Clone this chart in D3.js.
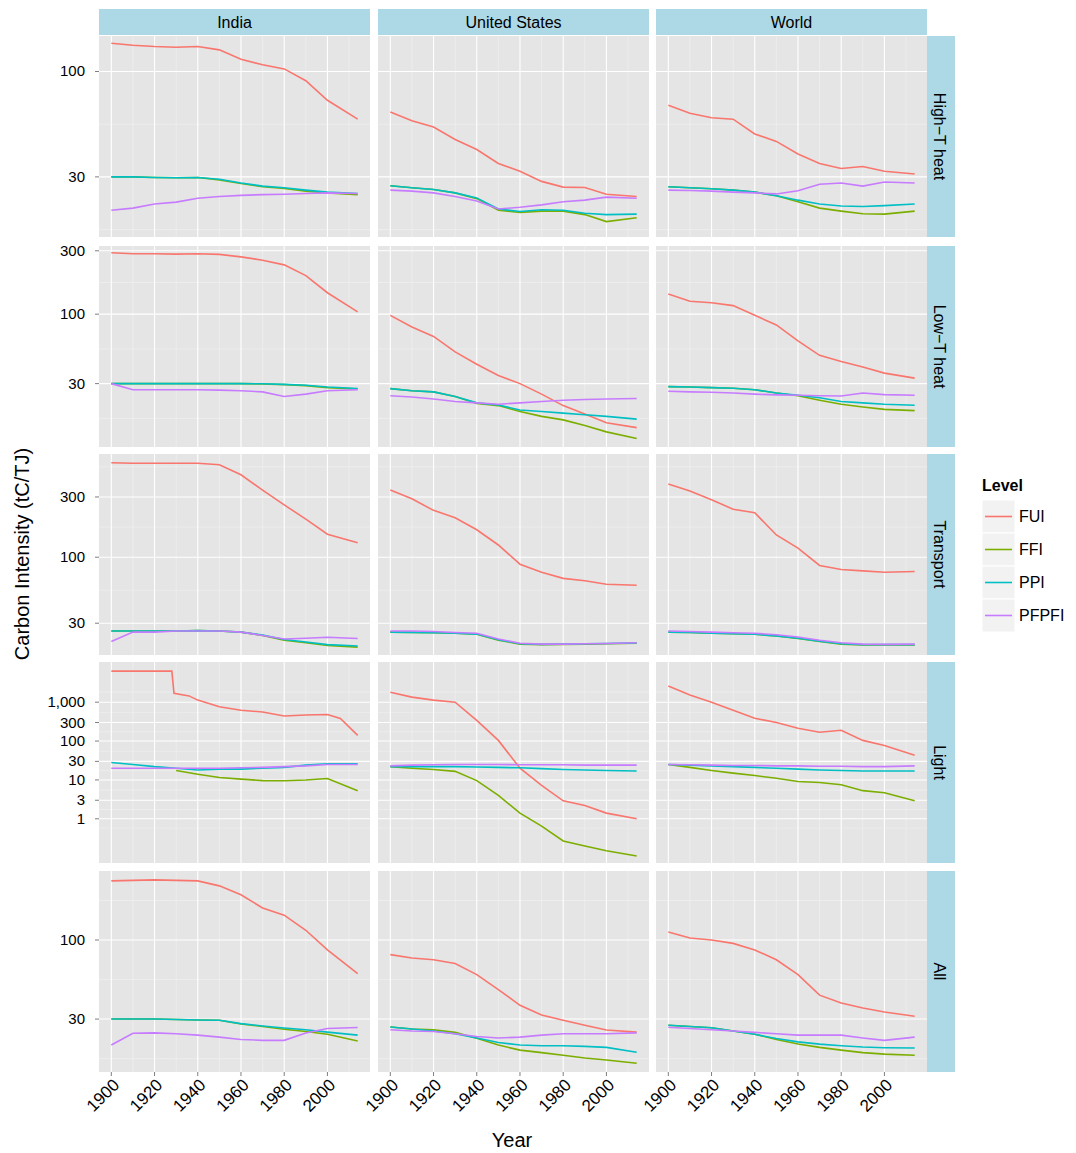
<!DOCTYPE html>
<html><head><meta charset="utf-8">
<script src="https://cdn.jsdelivr.net/npm/d3@7"></script>
<style>body{margin:0;background:#fff;font-family:"Liberation Sans",Arial,sans-serif}</style>
</head><body>
<script>
/*==================================================
 data (log scale)
==================================================*/
var years = [1900,1910,1920,1930,1940,1950,1960,1970,1980,1990,2000,2014];
var regions = ["India","United States","World"];
var sectors = ["High\u2212T heat","Low\u2212T heat","Transport","Light","All"];
var levels = ["FUI","FFI","PPI","PFPFI"];
var colors = ["#F8766D","#7CAE00","#00BFC4","#C77CFF"];

// each facet: [FUI, FFI, PPI, PFPFI]
var indiaHigh = [[138,135,133,132,133,128,115,108,103,90,72,58],
  [30,30,29.8,29.7,29.8,29,27.8,26.8,26.3,25.5,25,24.5],
  [30,30,29.8,29.7,29.8,29.2,28,27,26.5,25.8,25.2,24.8],
  [20.5,21,22,22.5,23.5,24,24.3,24.5,24.6,24.8,25,24.8]];
var usHigh = [[63,57,53,46,41,35,32,28.5,26.7,26.6,24.6,24],
  [27.1,26.5,26,25,23.4,20.5,20,20.3,20.3,19.5,18,18.8],
  [27.1,26.5,26,25,23.6,20.8,20.2,20.6,20.5,19.8,19.5,19.6],
  [25.8,25.5,25,24,22.8,20.8,21.2,21.8,22.6,23,23.8,23.5]];
var worldHigh = [[68,62,59,58,49,45,39,35,33,33.8,32,31],
  [26.8,26.5,26.2,25.8,25.2,24.2,22.6,21,20.3,19.7,19.6,20.3],
  [26.8,26.5,26.2,25.8,25.2,24.2,23,22,21.5,21.4,21.6,22],
  [25.8,25.7,25.5,25.2,25,24.7,25.6,27.6,28,27,28.3,28]];
var indiaLow = [[290,285,285,283,285,282,270,255,235,195,145,104],
  [30,30,30,30,30,30,30,29.8,29.5,29,28,27.3],
  [30,30,30,30,30,30,30,29.9,29.6,29.2,28.3,27.6],
  [30,27,27,27,27,26.8,26.5,26,24,25,26.5,27]];
var usLow = [[98,80,68,52,42,34.5,30,25,20.5,17.7,15.2,14],
  [27.5,26.5,26,24,21.3,20.5,18.5,17,16,14.5,13,11.6],
  [27.5,26.5,26,24,21.5,20.7,19,18.5,18,17.5,17,16.2],
  [24.3,23.8,23,22,21.5,21,21.5,22,22.5,22.8,23,23.2]];
var worldLow = [[142,125,122,116,98,83,63,49,44,40,36,33],
  [28.5,28.3,28,27.7,27,25.5,24.3,22.5,21,20,19.2,18.8],
  [28.5,28.3,28,27.7,27,25.5,24.5,23.5,22,21.5,21,20.6],
  [26.3,26,25.8,25.5,25,24.7,24.5,24.3,24.2,25.5,24.8,24.5]];
var indiaTransport = [[560,555,555,555,555,540,450,340,260,200,152,130],
  [26,26,26,26,26.2,26,25.5,24,22,21,20,19.4],
  [26,26,26,26,26.2,26,25.5,24.2,22.3,21.3,20.3,19.8],
  [21.5,25.5,25.5,26,26,26,25.5,24,22.5,22.8,23.2,22.7]];
var usTransport = [[340,290,235,205,165,125,88,76,68,65,61,60],
  [25.5,25.4,25.2,25,24.5,22,20.5,20.3,20.4,20.5,20.6,20.8],
  [25.5,25.4,25.2,25,24.6,22.2,20.6,20.4,20.5,20.6,20.7,20.9],
  [26,26,25.8,25.3,25,22.5,20.8,20.5,20.5,20.6,20.7,21]];
var worldTransport = [[380,335,285,240,225,150,118,86,80,78,76,77],
  [25.5,25.3,25,24.8,24.5,23.8,22.7,21.5,20.5,20.2,20.2,20.2],
  [25.5,25.3,25,24.8,24.5,23.8,22.8,21.6,20.6,20.3,20.3,20.3],
  [26,25.8,25.5,25.2,25,24.3,23.3,22,21,20.5,20.4,20.5]];
// India light FUI has a step in 1928, so it keeps its own years
var indiaLightFuiYears = [1900,1910,1920,1928,1929,1936,1940,1950,1960,1970,1980,1990,2000,2006,2014];
var indiaLightFui = [6300,6300,6300,6300,1700,1450,1130,760,620,560,440,470,480,380,140];
var indiaLight = [indiaLightFui,
  [null,null,null,17.5,14,11.5,10.5,9.6,9.5,10,10.9,5.3],
  [28,25,22,20,18,19,19,20,21,24,26,26],
  [20,20,20,20,20,20,20.5,21,22,23,25,25]];
var usLight = [[1810,1350,1130,1000,340,104,20,7.2,2.9,2.2,1.4,1],
  [22,20,18.6,16.6,9.6,4,1.4,0.65,0.27,0.2,0.15,0.11],
  [22,22,22,22,21.5,21,20.5,19.5,18.5,18,17.5,17],
  [23,24,24.5,25,25,25,24.5,24.5,24.5,24,24,24]];
var worldLight = [[2600,1520,1000,620,386,300,213,168,190,104,77,43],
  [25,21,17.5,15,13,11,9.1,8.6,7.5,5.3,4.7,2.9],
  [25,24,23,22,21,20,19,18,17.5,17,17,17],
  [25,24.5,24,23.5,23.5,23,23,22.5,22.5,22,22,23]];
var indiaAll = [[246,248,250,248,246,228,199,163,146,116,86,60],
  [30,30,30,29.8,29.6,29.5,27.8,26.8,25.7,24.8,23.8,21.5],
  [30,30,30,29.8,29.6,29.5,28,27,26.2,25.5,24.6,23.5],
  [20.2,24.2,24.3,24,23.5,22.8,22,21.7,21.7,24.3,26,26.4]];
var usAll = [[80,76,74,70,59,47,37,31.9,29.5,27.3,25.4,24.6],
  [26.6,25.8,25.5,24.5,22.4,20.2,18.7,18,17.3,16.6,16.1,15.3],
  [26.6,25.8,25,24,22.5,21,20.2,20,20,19.8,19.5,18.1],
  [25.5,25,24.8,24,23,22.5,22.8,23.5,24,24,24,24.3]];
var worldAll = [[113,103,100,95,86,74,59,43.2,38.3,35.5,33.4,31.3],
  [27.3,26.8,26.3,25,23.8,22,20.5,19.5,18.7,18,17.6,17.3],
  [27.3,26.8,26.3,25,23.8,22.3,21.2,20.5,20,19.6,19.4,19.3],
  [26.5,26,25.5,25,24.5,24,23.5,23.5,23.5,22.5,21.7,22.8]];

var facets = [[indiaHigh,usHigh,worldHigh],[indiaLow,usLow,worldLow],
  [indiaTransport,usTransport,worldTransport],[indiaLight,usLight,worldLight],
  [indiaAll,usAll,worldAll]];

// y domains and breaks per row
var yDomains = [[15.1,150],[10,326],[16.8,657],[0.073,10800],[13.4,286]];
var yBreaks = [[30,100],[30,100,300],[30,100,300],[1,3,10,30,100,300,1000],[30,100]];
var xBreaks = [1900,1920,1940,1960,1980,2000];

/*==================================================
 layout
==================================================*/
var W = 1076, H = 1153;
var colX = [99,378,656], panelW = 271;
var rowY = [36,246,454,662,871], panelH = 201;

var svg = d3.select("body").append("svg").attr("width",W).attr("height",H);
var x = d3.scaleLinear().domain([1900-5.7,2014+5.7]).range([0,panelW]);
var fmt = d3.format(",");

// column strips
regions.forEach(function (r, c) {
  svg.append("rect").attr("x",colX[c]).attr("y",9).attr("width",panelW).attr("height",26).attr("fill","#ADD8E6");
  svg.append("text").attr("x",colX[c]+panelW/2).attr("y",28).attr("text-anchor","middle")
    .attr("font-size",16).text(r);
});

sectors.forEach(function (s, r) {
  var y = d3.scaleLog().domain(yDomains[r]).range([panelH,0]);
  // row strip
  svg.append("rect").attr("x",927).attr("y",rowY[r]).attr("width",28).attr("height",panelH).attr("fill","#ADD8E6");
  svg.append("text").attr("transform","translate(934," + (rowY[r]+panelH/2) + ") rotate(90)")
    .attr("text-anchor","middle").attr("font-size",16).text(s);

  // minor y breaks: midpoints in log space, one beyond each end
  var b = yBreaks[r], minors = [];
  for (var i = 0; i < b.length-1; i++) minors.push(Math.sqrt(b[i]*b[i+1]));
  minors.push(b[0]*Math.sqrt(b[0]/b[1]));
  minors.push(b[b.length-1]*Math.sqrt(b[b.length-1]/b[b.length-2]));

  facets[r].forEach(function (series, c) {
    var g = svg.append("g").attr("transform","translate(" + colX[c] + "," + rowY[r] + ")");
    g.append("rect").attr("width",panelW).attr("height",panelH).attr("fill","#E5E5E5");
    minors.filter(function (v) { return y(v) > 0 && y(v) < panelH; }).forEach(function (v) {
      g.append("line").attr("x1",0).attr("x2",panelW).attr("y1",y(v)).attr("y2",y(v)).attr("stroke","#F2F2F2").attr("stroke-width",0.6);
    });
    xBreaks.forEach(function (v) {
      g.append("line").attr("x1",x(v+10)).attr("x2",x(v+10)).attr("y1",0).attr("y2",panelH).attr("stroke","#F2F2F2").attr("stroke-width",0.6);
    });
    b.forEach(function (v) {
      g.append("line").attr("x1",0).attr("x2",panelW).attr("y1",y(v)).attr("y2",y(v)).attr("stroke","#fff").attr("stroke-width",1.1);
    });
    xBreaks.forEach(function (v) {
      g.append("line").attr("x1",x(v)).attr("x2",x(v)).attr("y1",0).attr("y2",panelH).attr("stroke","#fff").attr("stroke-width",1.1);
    });

    series.forEach(function (vals, k) {
      var yrs = (vals === indiaLightFui) ? indiaLightFuiYears : years;
      var pts = vals.map(function (v, i) { return [yrs[i], v]; });
      var line = d3.line().defined(function (d) { return d[1] != null; })
        .x(function (d) { return x(d[0]); }).y(function (d) { return y(d[1]); });
      g.append("path").attr("d",line(pts)).attr("fill","none")
        .attr("stroke",colors[k]).attr("stroke-width",1.6);
    });

    // y axis on first column
    if (c === 0) {
      b.forEach(function (v) {
        g.append("line").attr("x1",-4).attr("x2",0).attr("y1",y(v)).attr("y2",y(v)).attr("stroke","#7F7F7F");
        g.append("text").attr("x",-14).attr("y",y(v)+5).attr("text-anchor","end")
          .attr("font-size",15).attr("fill","#000").text(fmt(v));
      });
    }
    // x axis on last row
    if (r === sectors.length-1) {
      xBreaks.forEach(function (v) {
        g.append("line").attr("x1",x(v)).attr("x2",x(v)).attr("y1",panelH).attr("y2",panelH+4).attr("stroke","#7F7F7F");
        g.append("text").attr("transform","translate(" + (x(v)+9) + "," + (panelH+14) + ") rotate(-45)")
          .attr("text-anchor","end").attr("font-size",17).text(v);
      });
    }
  });
});

// axis titles
svg.append("text").attr("x",512).attr("y",1147).attr("text-anchor","middle").attr("font-size",20).text("Year");
svg.append("text").attr("transform","translate(29,554) rotate(-90)").attr("text-anchor","middle")
  .attr("font-size",20).text("Carbon Intensity (tC/TJ)");

// legend
svg.append("text").attr("x",982).attr("y",491).attr("font-size",16).attr("font-weight","bold").text("Level");
levels.forEach(function (l, i) {
  var ly = 500 + i*33;
  svg.append("rect").attr("x",982).attr("y",ly).attr("width",33).attr("height",33).attr("fill","#F2F2F2").attr("stroke","#fff");
  svg.append("line").attr("x1",985).attr("x2",1012).attr("y1",ly+16.5).attr("y2",ly+16.5)
    .attr("stroke",colors[i]).attr("stroke-width",1.6);
  svg.append("text").attr("x",1019).attr("y",ly+22).attr("font-size",16).text(l);
});
</script>
</body></html>
